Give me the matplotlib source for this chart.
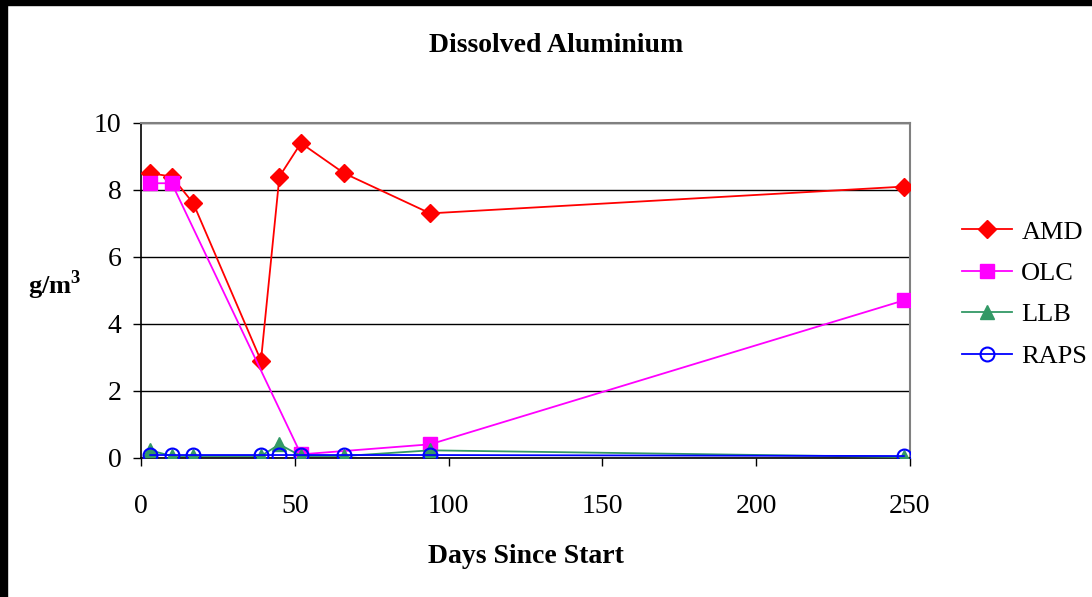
import matplotlib
matplotlib.use("Agg")
import matplotlib.pyplot as plt
from matplotlib.patches import Rectangle

# Sampling days and dissolved aluminium concentrations (g/m3)
amd_days = [3, 10, 17, 39, 45, 52, 66, 94, 248]
amd_vals = [8.5, 8.4, 7.6, 2.9, 8.4, 9.4, 8.5, 7.3, 8.1]

olc_days = [3, 10, 52, 94, 248]
olc_vals = [8.2, 8.2, 0.1, 0.4, 4.7]

llb_days = [3, 10, 17, 39, 45, 52, 66, 94, 248]
llb_vals = [0.22, 0.05, 0.05, 0.05, 0.4, 0.05, 0.05, 0.22, 0.02]

raps_days = [3, 10, 17, 39, 45, 52, 66, 94, 248]
raps_vals = [0.08, 0.08, 0.08, 0.08, 0.08, 0.08, 0.08, 0.08, 0.05]

x_ticks = [0, 50, 100, 150, 200, 250]
y_ticks = [0, 2, 4, 6, 8, 10]

plt.rcParams["font.family"] = ["Liberation Serif", "DejaVu Serif"]
plt.rcParams["mathtext.fontset"] = "custom"
plt.rcParams["mathtext.rm"] = "Liberation Serif"
plt.rcParams["mathtext.bf"] = "Liberation Serif:bold"

fig = plt.figure(figsize=(10.92, 5.97), dpi=100)
W, H = 1092, 597
ax = fig.add_axes([141 / W, 1 - 457.7 / H, (910 - 141) / W, (457.7 - 123) / H])

lw = 1.3
ax.plot(amd_days, amd_vals, color="#ff0000", lw=lw, marker="D", ms=9.5,
        mfc="#ff0000", mec="#ff0000", label="AMD", zorder=3)
ax.plot(olc_days, olc_vals, color="#ff00ff", lw=lw, marker="s", ms=10,
        mfc="#ff00ff", mec="#ff00ff", label="OLC", zorder=3)
ax.plot(llb_days, llb_vals, color="#339966", lw=lw, marker="^", ms=10,
        mfc="#339966", mec="#339966", label="LLB", zorder=4)
ax.plot(raps_days, raps_vals, color="#0000ff", lw=lw, marker="o", ms=10,
        mfc="none", mec="#0000ff", mew=1.5, label="RAPS", zorder=5)

ax.set_xlim(0, 250)
ax.set_ylim(0, 10)
ax.set_xticks(x_ticks)
ax.set_yticks(y_ticks)
ax.yaxis.grid(True, color="black", lw=1.0)
ax.set_axisbelow(True)

for side in ("top", "right"):
    ax.spines[side].set_color("#808080")
    ax.spines[side].set_linewidth(1.5)
for side in ("left", "bottom"):
    ax.spines[side].set_color("black")
    ax.spines[side].set_linewidth(1.2)

ax.tick_params(axis="both", direction="out", length=6, width=1.0,
               labelsize=20, colors="black")
ax.tick_params(axis="x", pad=20)
ax.tick_params(axis="y", pad=8)

fig.text(556 / W, 1 - 45 / H, "Dissolved Aluminium", fontsize=20,
         fontweight="bold", ha="center", va="center")
ax.set_xlabel("Days Since Start", fontsize=20, fontweight="bold", labelpad=18)
fig.text(55 / W, 1 - 285 / H, r"g/m$^\mathbf{3}$", fontsize=19,
         fontweight="bold", ha="center", va="center")

ax.legend(loc="center left", bbox_to_anchor=(962 / W, 1 - 294 / H),
          bbox_transform=fig.transFigure, frameon=False, fontsize=19,
          handlelength=1.9, labelspacing=0.68, handletextpad=0.35,
          borderaxespad=0, borderpad=0)

# Dark frame around the sheet
fig.patches.append(Rectangle((0, 1 - 5 / H), 1, 5 / H, transform=fig.transFigure,
                             color="black", zorder=10))
fig.patches.append(Rectangle((0, 0), 7 / W, 1, transform=fig.transFigure,
                             color="black", zorder=10))

fig.savefig("out.png", dpi=100)
